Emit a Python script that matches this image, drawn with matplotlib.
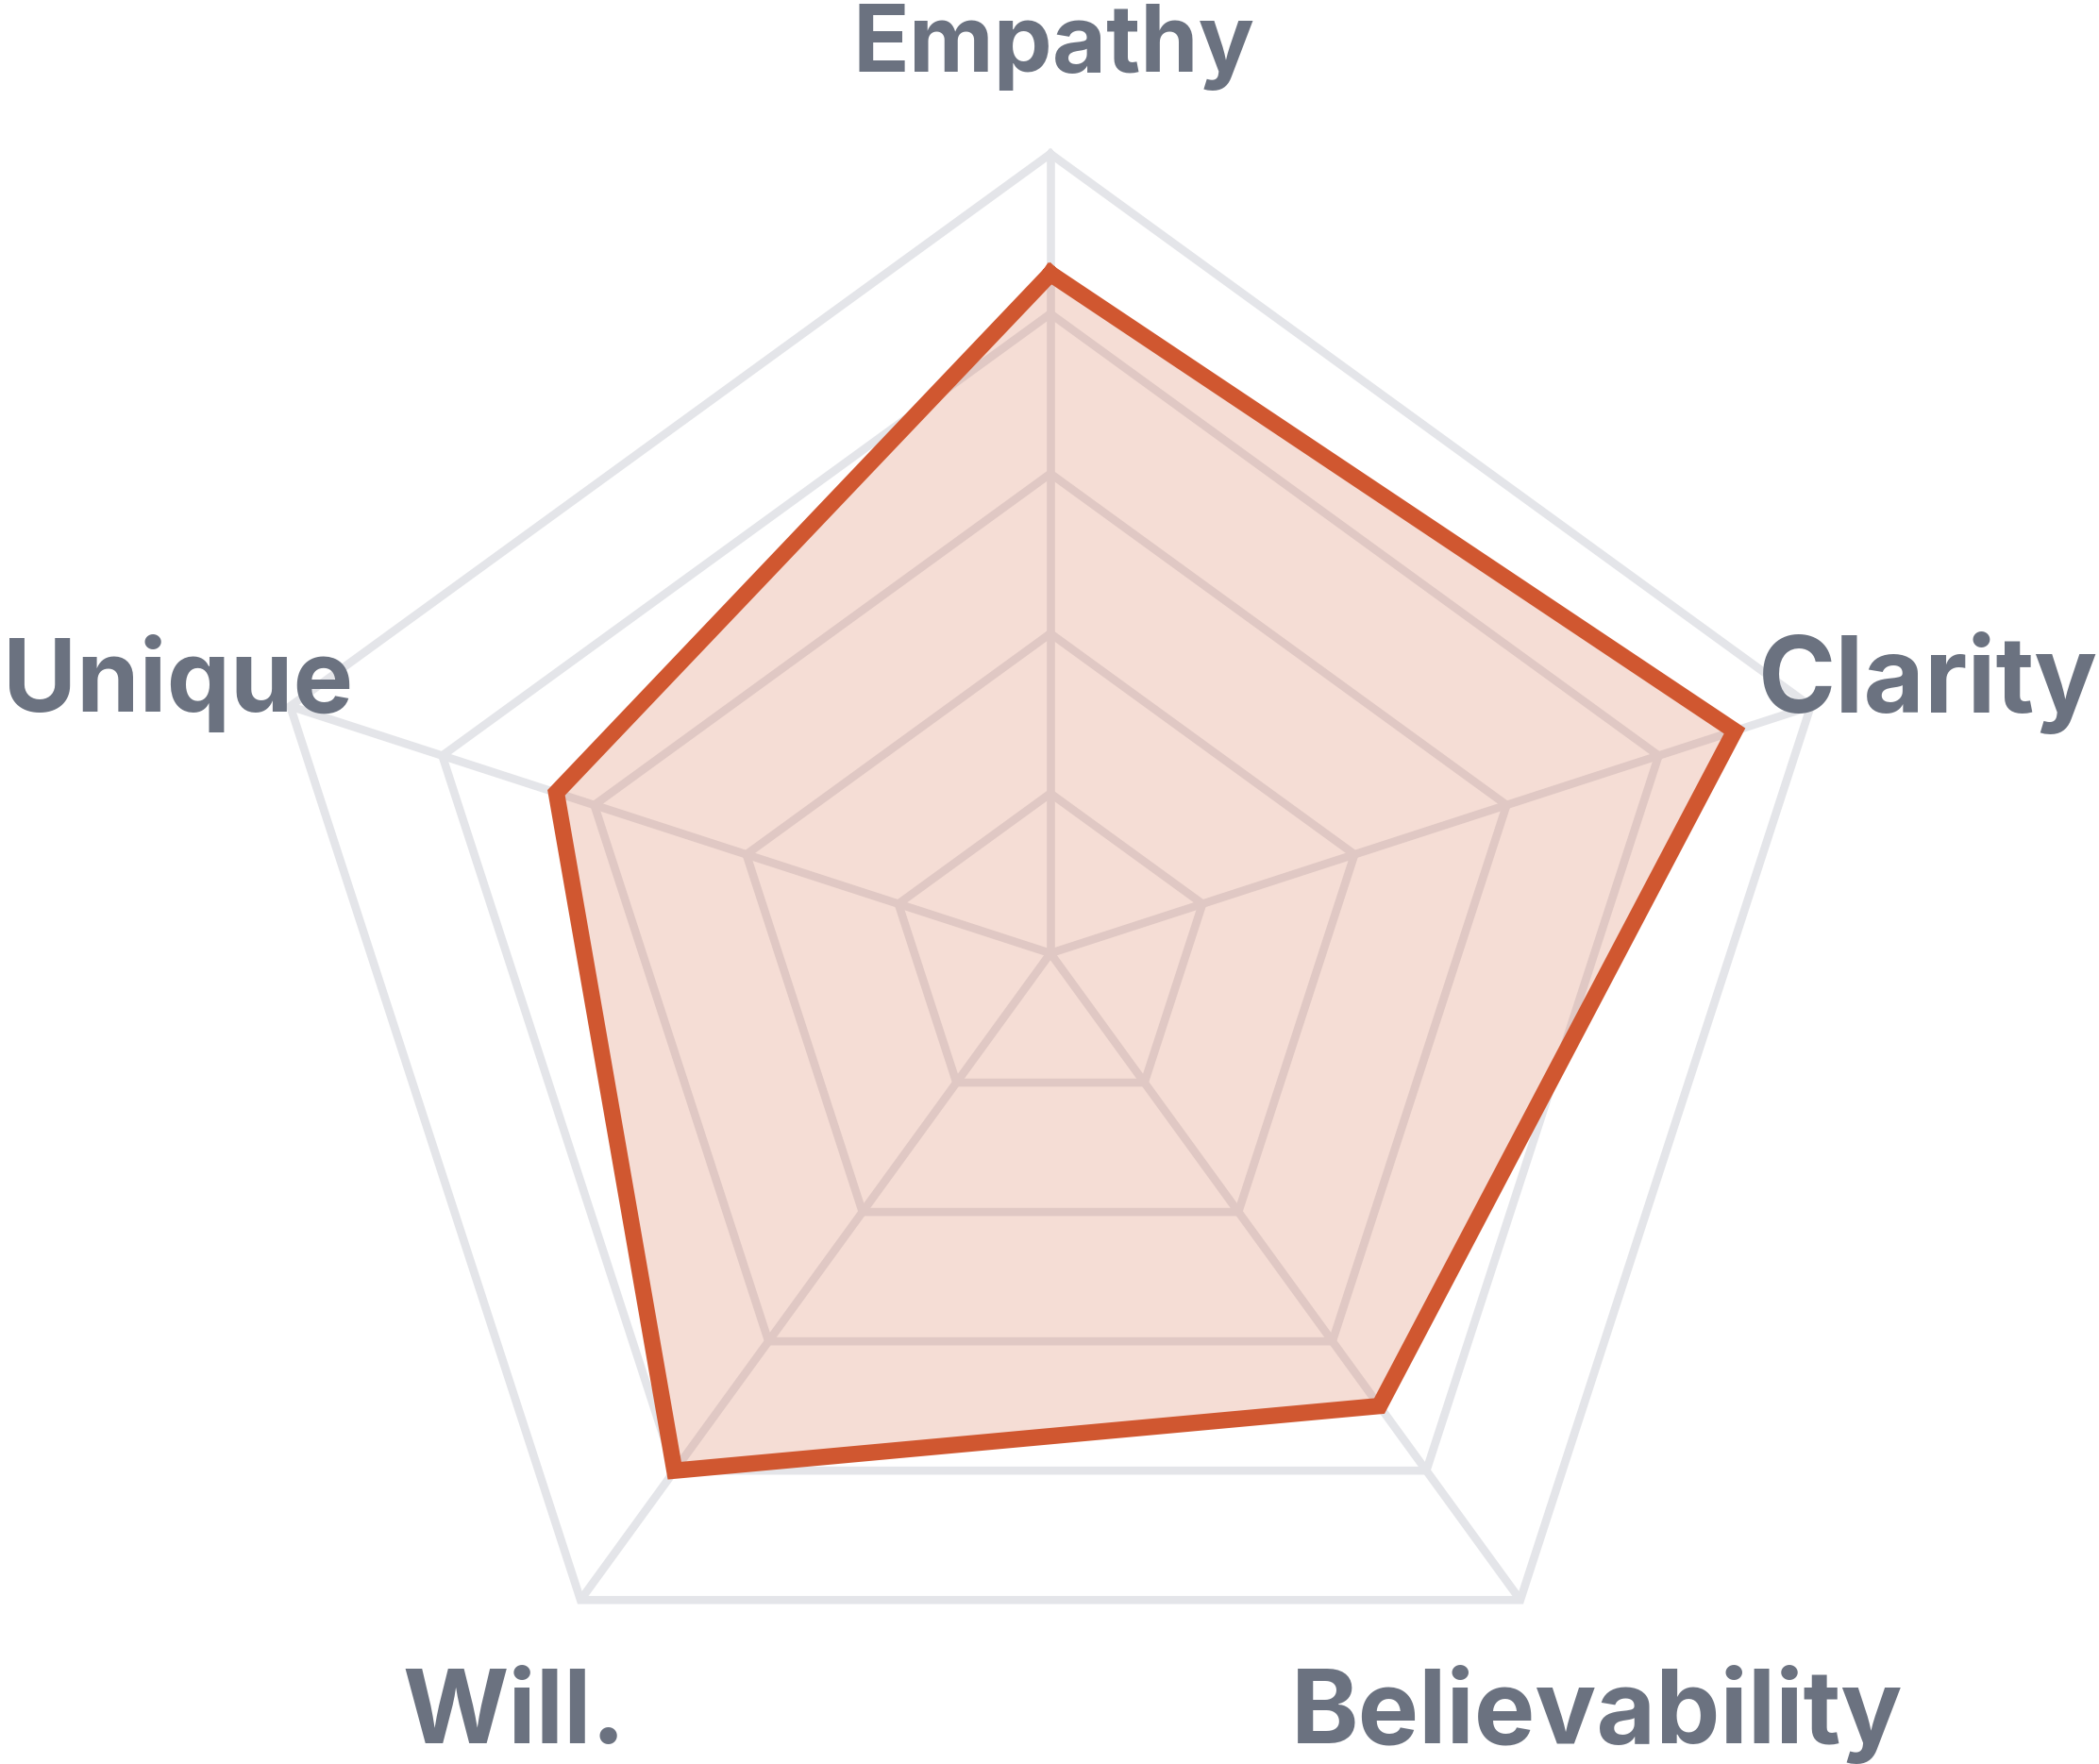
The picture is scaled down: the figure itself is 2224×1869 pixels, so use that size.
import numpy as np
import matplotlib
matplotlib.use("Agg")
import matplotlib.pyplot as plt

# radar data (scale 0-100)
categories = ["Empathy", "Clarity", "Believability", "Will.", "Unique"]
scores = [85, 90, 70, 80, 65]
levels = [20, 40, 60, 80, 100]

angles_deg = [90, 18, -54, -126, 162]

grid_color = "#e4e5e9"
line_color = "#d05730"
text_color = "#6b7280"

W, H = 2224, 1869
cx, cy = 1113, 1010      # centre in pixels (from top-left)
px_per_unit = 8.47

fig = plt.figure(figsize=(W / 100, H / 100), dpi=100)
ax = fig.add_axes([0, 0, 1, 1])
ax.set_xlim(-cx / px_per_unit, (W - cx) / px_per_unit)
ax.set_ylim(-(H - cy) / px_per_unit, cy / px_per_unit)
ax.axis("off")

theta = np.radians(angles_deg)
cos_t, sin_t = np.cos(theta), np.sin(theta)

# grid rings
for lv in levels:
    xs = np.append(lv * cos_t, lv * cos_t[0])
    ys = np.append(lv * sin_t, lv * sin_t[0])
    ax.plot(xs, ys, color=grid_color, lw=6.2, solid_joinstyle="miter", zorder=1)

# spokes
for c, s in zip(cos_t, sin_t):
    ax.plot([0, levels[-1] * c], [0, levels[-1] * s], color=grid_color, lw=6.2,
            solid_capstyle="butt", zorder=1)

# data polygon
vals = np.array(scores, dtype=float)
px = np.append(vals * cos_t, vals[0] * cos_t[0])
py = np.append(vals * sin_t, vals[0] * sin_t[0])
ax.fill(px, py, color=line_color, alpha=0.2, lw=0, zorder=2)
ax.plot(px, py, color=line_color, lw=12.5, solid_joinstyle="miter", zorder=3)

# labels (pixel positions -> figure fraction)
font = dict(family=["Inter", "DejaVu Sans"], weight="bold", color=text_color)
label_pos = {
    "Empathy": (1116, 76, "center", 71),
    "Clarity": (1863, 755, "left", 80),
    "Unique": (374, 754, "right", 77),
    "Will.": (426, 1847, "left", 78),
    "Believability": (1368, 1847, "left", 78),
}
for name in categories:
    x, y, ha, size = label_pos[name]
    fig.text(x / W, 1 - y / H, name, ha=ha, va="baseline", fontsize=size, **font)

fig.savefig("out.png", dpi=100)
